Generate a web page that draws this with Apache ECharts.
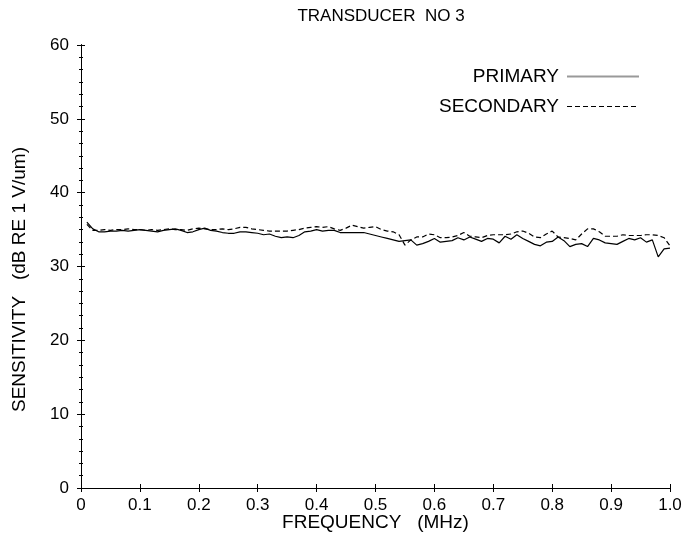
<!DOCTYPE html>
<html>
<head>
<meta charset="utf-8">
<script src="https://cdn.jsdelivr.net/npm/echarts@6/dist/echarts.min.js"></script>
<style>html,body{margin:0;padding:0;background:#fff}#c{width:685px;height:536px}</style>
</head>
<body>
<div id="c"></div>
<script>
const freq = [0.01,0.02,0.03,0.04,0.05,0.06,0.07,0.08,0.09,0.10,
0.11,0.12,0.13,0.14,0.15,0.16,0.17,0.18,0.19,0.20,
0.21,0.22,0.23,0.24,0.25,0.26,0.27,0.28,0.29,0.30,
0.31,0.32,0.33,0.34,0.35,0.36,0.37,0.38,0.39,0.40,
0.41,0.42,0.43,0.44,0.45,0.46,0.47,0.48,0.49,0.50,
0.51,0.52,0.53,0.54,0.55,0.56,0.57,0.58,0.59,0.60,
0.61,0.62,0.63,0.64,0.65,0.66,0.67,0.68,0.69,0.70,
0.71,0.72,0.73,0.74,0.75,0.76,0.77,0.78,0.79,0.80,
0.81,0.82,0.83,0.84,0.85,0.86,0.87,0.88,0.89,0.90,
0.91,0.92,0.93,0.94,0.95,0.96,0.97,0.98,0.99,1.00];
const primary = [36.0,35.1,34.7,34.7,34.8,34.8,34.9,34.8,34.9,35.0,
34.9,34.8,34.7,34.9,35.0,35.1,34.9,34.6,34.7,35.0,
35.2,34.9,34.8,34.6,34.5,34.5,34.7,34.7,34.6,34.5,
34.3,34.4,34.1,33.9,34.0,33.9,34.2,34.7,34.8,35.0,
34.8,34.9,34.9,34.6,34.6,34.6,34.6,34.6,34.4,34.2,
34.0,33.8,33.6,33.4,33.5,33.6,32.9,33.1,33.4,33.8,
33.3,33.4,33.5,33.9,33.6,34.0,33.7,33.4,33.8,33.7,
33.2,34.1,33.7,34.3,33.8,33.4,33.0,32.8,33.3,33.4,
34.0,33.5,32.7,33.0,33.1,32.7,33.8,33.6,33.2,33.1,
33.0,33.4,33.8,33.6,33.9,33.3,33.6,31.3,32.4,32.5];
const secondary = [35.7,34.9,34.9,35.0,34.9,35.0,35.0,35.1,35.0,35.0,
34.9,35.0,34.9,35.0,35.1,35.0,35.0,34.9,35.1,35.2,
35.1,35.0,35.0,35.1,35.0,35.1,35.3,35.3,35.1,35.0,
34.9,34.8,34.8,34.8,34.8,34.9,35.0,35.2,35.3,35.4,
35.3,35.4,35.1,34.9,35.2,35.6,35.4,35.2,35.3,35.4,
35.0,34.8,34.7,34.3,32.9,33.6,34.0,34.0,34.4,34.3,
33.9,33.9,34.0,34.2,34.6,34.1,34.0,33.9,34.2,34.3,
34.3,34.3,34.4,34.7,34.8,34.5,34.0,33.9,34.4,34.8,
34.0,33.9,33.8,33.6,34.4,35.1,35.1,34.7,34.1,34.1,
34.1,34.3,34.2,34.2,34.2,34.3,34.3,34.2,33.9,32.8];
const xTicks = ['0','0.1','0.2','0.3','0.4','0.5','0.6','0.7','0.8','0.9','1.0'];

const FONT = 'Liberation Sans';
const chart = echarts.init(document.getElementById('c'));
const baseX = (pos, inside, labels) => ({
  type: 'value', min: 0, max: 1, interval: 0.1, position: pos,
  axisLine: {show: true, lineStyle: {color: '#000', width: 1}},
  axisTick: {show: true, inside: inside, length: 4, lineStyle: {color: '#000'}},
  axisLabel: labels ? {show: true, margin: 9, color: '#000', fontFamily: FONT, fontSize: 17,
    formatter: v => xTicks[Math.round(v * 10)]} : {show: false},
  splitLine: {show: false}
});
const baseY = (pos, inside, labels) => ({
  type: 'value', min: 0, max: 60, interval: 10, position: pos,
  axisLine: {show: true, lineStyle: {color: '#000', width: 1}},
  axisTick: {show: true, inside: inside, length: 4, lineStyle: {color: '#000'}},
  minorTick: {show: inside, splitNumber: 6, length: 2, lineStyle: {color: '#000'}},
  axisLabel: labels ? {show: true, margin: 12, color: '#000', fontFamily: FONT, fontSize: 17} : {show: false},
  splitLine: {show: false}
});
const xb = baseX('bottom', false, true);
xb.name = 'FREQUENCY   (MHz)';
xb.nameLocation = 'middle';
xb.nameGap = 25;
xb.nameMoveOverlap = false;
xb.nameTextStyle = {color: '#000', fontFamily: FONT, fontSize: 19};
const yl = baseY('left', false, true);
yl.name = 'SENSITIVITY   (dB RE 1 V/um)';
yl.nameLocation = 'middle';
yl.nameGap = 52;
yl.nameMoveOverlap = false;
yl.nameTextStyle = {color: '#000', fontFamily: FONT, fontSize: 19, padding: [0, 26, 0, 0]};

chart.setOption({
  animation: false,
  backgroundColor: '#fff',
  title: {text: 'TRANSDUCER  NO 3', left: 376, textAlign: 'center', top: 3,
    textStyle: {color: '#000', fontFamily: FONT, fontSize: 17, fontWeight: 'normal'}},
  grid: {left: 81, right: 15, top: 45, bottom: 48, outerBoundsMode: 'none', containLabel: false},
  legend: {
    orient: 'vertical', right: 40, top: 62, align: 'right',
    itemWidth: 72, itemHeight: 14, itemGap: 11,
    textStyle: {color: '#000', fontFamily: FONT, fontSize: 19, padding: [0, 3, 0, 0]},
    data: [
      {name: 'PRIMARY', itemStyle: {opacity: 0}, lineStyle: {color: '#999', width: 2, type: 'solid'}},
      {name: 'SECONDARY', itemStyle: {opacity: 0}, lineStyle: {color: '#000', width: 1.2, type: [5, 3]}}
    ]
  },
  xAxis: [xb, baseX('bottom', true, false), baseX('top', false, false), baseX('top', true, false)],
  yAxis: [yl, baseY('left', true, false), baseY('right', false, false), baseY('right', true, false)],
  series: [
    {name: 'PRIMARY', type: 'line', symbol: 'none', xAxisIndex: 0, yAxisIndex: 0,
      lineStyle: {color: '#000', width: 1.2}, itemStyle: {color: '#000'},
      data: freq.map((f, i) => [f, primary[i]])},
    {name: 'SECONDARY', type: 'line', symbol: 'none', xAxisIndex: 0, yAxisIndex: 0,
      lineStyle: {color: '#000', width: 1.2, type: [5, 3]}, itemStyle: {color: '#000'},
      data: freq.map((f, i) => [f, secondary[i]])}
  ]
});
</script>
</body>
</html>
